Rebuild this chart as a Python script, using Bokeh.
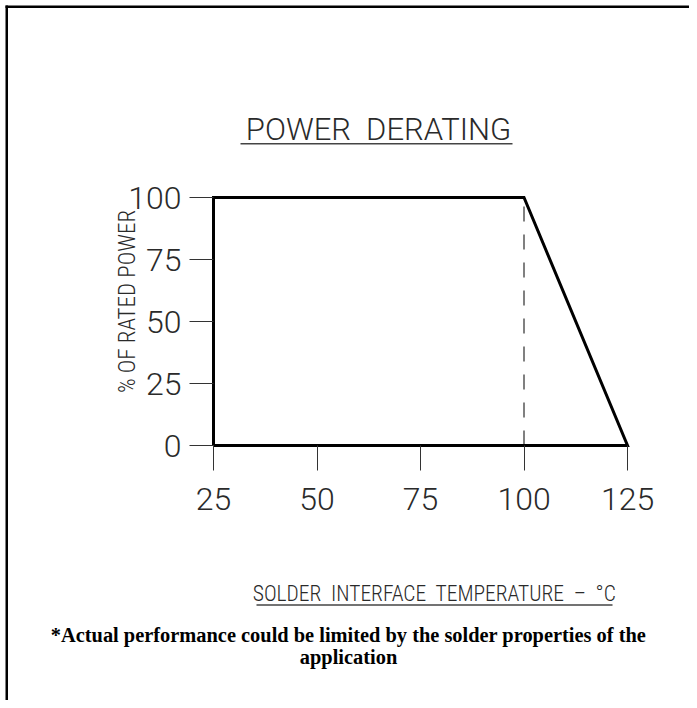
import math
from bokeh.plotting import figure
from bokeh.embed import file_html
from bokeh.resources import INLINE
from bokeh.models import Label, BoxAnnotation, FixedTicker

# ---- data ----
temps = [25, 25, 100, 125, 25]          # solder interface temperature, °C
power = [0, 100, 100, 0, 0]             # % of rated power
knee_temp = [100, 100]
knee_power = [0, 100]
x_ticks = [25, 50, 75, 100, 125]
y_ticks = [0, 25, 50, 75, 100]

title_text = "POWER\u00a0 DERATING"
xlabel_text = "SOLDER\u00a0 INTERFACE\u00a0 TEMPERATURE\u00a0 –\u00a0 °C"
ylabel_text = "% OF RATED POWER"
note1 = "*Actual performance could be limited by the solder properties of the"
note2 = "application"

# ---- layout (picture pixel geometry) ----
ORIG = 0                      # canvas origin in the picture
W, H = 689, 700
PX25, PX125 = 213, 627        # picture x of 25 and 125
PY0, PY100 = 445, 197         # picture y of 0 and 100
sx = (PX125 - PX25) / 100.0
sy = (PY0 - PY100) / 100.0

def dx(px):
    return 25 + (px - PX25) / sx

def dy(py):
    return (PY0 - py) / sy

p = figure(width=W, height=H, output_backend="svg", toolbar_location=None,
           x_range=(dx(ORIG), dx(ORIG + W)), y_range=(dy(ORIG + H), dy(ORIG)),
           min_border=0, background_fill_color="white", border_fill_color="white")
p.outline_line_color = None
p.grid.visible = False

TICKFONT = "Roboto Light"
LABFONT = "Roboto Condensed Light"
TXT = "#2a2a2a"

p.xaxis.fixed_location = 0
p.yaxis.fixed_location = 25
p.xaxis.ticker = FixedTicker(ticks=x_ticks)
p.yaxis.ticker = FixedTicker(ticks=y_ticks)
for ax in (p.xaxis, p.yaxis):
    ax.axis_line_color = None
    ax.minor_tick_line_color = None
    ax.major_tick_line_color = "#333333"
    ax.major_tick_line_width = 1
    ax.major_tick_in = 0
    ax.major_label_text_font = TICKFONT
    ax.major_label_text_font_size = "32px"
    ax.major_label_text_color = TXT
p.xaxis.major_tick_out = 25
p.xaxis.major_label_standoff = 17
p.yaxis.major_tick_out = 24
p.yaxis.major_label_standoff = 8

# dashed knee line
p.line(knee_temp, knee_power, line_color="#808080", line_width=2, line_dash="15 13")
# derating curve
p.line(temps, power, line_color="black", line_width=3, line_join="miter")

# texts
p.add_layout(Label(x=dx(378), y=dy(129), text=title_text, text_align="center",
                   text_baseline="middle", text_font=TICKFONT, text_font_size="31px",
                   text_color=TXT))
p.add_layout(BoxAnnotation(left=dx(240), right=dx(512), top=dy(142.6), bottom=dy(144.0),
                           fill_color="#444444", fill_alpha=1, line_color=None))
p.add_layout(Label(x=dx(434), y=dy(592.5), text=xlabel_text, text_align="center",
                   text_baseline="middle", text_font=LABFONT, text_font_size="21.5px",
                   text_color=TXT))
p.add_layout(BoxAnnotation(left=dx(256), right=dx(612), top=dy(603.8), bottom=dy(605.2),
                           fill_color="#444444", fill_alpha=1, line_color=None))
p.add_layout(Label(x=dx(127), y=dy(301), text=ylabel_text, text_align="center",
                   text_baseline="middle", angle=math.pi / 2, text_font=LABFONT, text_font_size="23px",
                   text_color=TXT))
p.add_layout(Label(x=dx(348), y=dy(634), text=note1, text_align="center",
                   text_baseline="middle", text_font="Liberation Serif", text_font_style="bold",
                   text_font_size="20.4px", text_color="black"))
p.add_layout(Label(x=dx(348), y=dy(656), text=note2, text_align="center",
                   text_baseline="middle", text_font="Liberation Serif", text_font_style="bold",
                   text_font_size="20.4px", text_color="black"))

# outer drawing frame: top and left edges (right/bottom fall outside the picture)
p.add_layout(BoxAnnotation(left=dx(5), right=dx(W + 30), top=dy(5), bottom=dy(7.5),
                           fill_color="black", fill_alpha=1, line_color=None))
p.add_layout(BoxAnnotation(left=dx(5), right=dx(7.5), top=dy(5), bottom=dy(H + 30),
                           fill_color="black", fill_alpha=1, line_color=None))

open("out.html", "w").write(file_html(p, INLINE))
